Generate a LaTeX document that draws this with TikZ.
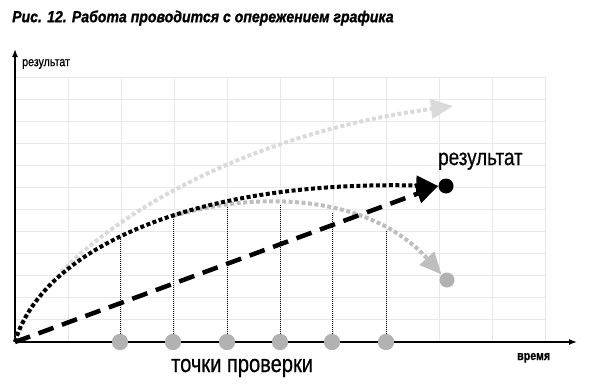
\documentclass[tikz,border=0pt]{standalone}
\usepackage{fontspec}
\setmainfont{Liberation Sans}
\newfontfamily\narrowfont[FakeStretch=0.82,FakeBold=0.6]{Liberation Sans}
\newfontfamily\titlefont[FakeStretch=0.88,FakeBold=1.2]{Liberation Sans}
\usetikzlibrary{arrows.meta}
\definecolor{gridgray}{HTML}{E8E8E8}
\definecolor{lightdots}{HTML}{DADADA}
\definecolor{middots}{HTML}{BEBEBE}
\definecolor{pointgray}{HTML}{B2B2B2}

\begin{document}
\begin{tikzpicture}[x=1pt,y=-1pt]
    \tikzstyle{grid line}=[draw=gridgray, line width=0.9pt]
    \tikzstyle{axis}=[-{Latex[length=8pt,width=6pt]}, line width=1.4pt]
    \tikzstyle{check point}=[circle, fill=pointgray, minimum size=16pt, inner sep=0pt]
    \tikzstyle{end point}=[circle, minimum size=15pt, inner sep=0pt]
    \tikzstyle{big tip}=[-{Triangle[length=22pt,width=19pt]}]
    \tikzstyle{plan line}=[big tip, line width=4.5pt, dash pattern=on 16pt off 9pt]
    \tikzstyle{dot line}=[big tip, line width=4pt, dash pattern=on 4pt off 2.5pt]
    \tikzstyle{drop line}=[line width=0.8pt, dash pattern=on 1pt off 1pt]
    \useasboundingbox (0,0) rectangle (612,388);
    % Draw the grid
    \foreach \i in {1,...,10}
        \draw[grid line] (15+53*\i,77) -- (15+53*\i,342);
    \foreach \j in {0,...,11}
        \draw[grid line] (15,77+22.08*\j) -- (545,77+22.08*\j);
    % Draw the axes
    \coordinate (O) at (15,342);
    \coordinate (Ytop) at (15,49);
    \coordinate (Xend) at (577,342);
    \draw[axis] (O) -- (Ytop);
    \draw[axis] (O) -- (Xend);
    % Draw the check points and drop lines
    \foreach \n / \x / \y in {1/120/237, 2/173/216, 3/227/205, 4/280/205, 5/332/213, 6/386/231} {
        \coordinate (C-\n) at (\x,\y);
        \node[check point] (P-\n) at (\x,342) {};
        \draw[drop line] (P-\n) -- (C-\n);
    }
    \foreach \n in {1,...,6}
        \node[check point] at (P-\n) {};
    % Draw the end points
    \node[end point, fill=black] (res) at (446,186) {};
    \node[end point, fill=pointgray] (low) at (447,280) {};
    \coordinate (high) at (453,106);
    % Draw the curves
    \draw[dot line, draw=lightdots] (O) .. controls (40,260) and (200,140) .. (high);
    \draw[dot line, draw=middots] (C-2) .. controls (260,190) and (370,195) .. (low.north west);
    \draw[dot line] (O) .. controls (40,255) and (180,180) .. (res.west);
    \draw[plan line] (O) -- (res.west);
    % Draw the labels
    \node[anchor=west, inner sep=0pt] (title) at (12,18)
        {\titlefont\fontsize{16}{19}\selectfont\bfseries\itshape Рис. 12. Работа проводится с опережением графика};
    \node[anchor=west, inner sep=0pt] (ylabel) at (22,64)
        {\narrowfont\fontsize{13}{15}\selectfont результат};
    \node[anchor=base west, inner sep=0pt] (reslabel) at (438,165)
        {\narrowfont\fontsize{23}{27}\selectfont результат};
    \node[anchor=base west, inner sep=0pt] (xlabel) at (517,360)
        {\narrowfont\fontsize{13}{15}\selectfont\bfseries время};
    \node[anchor=base west, inner sep=0pt] (checklabel) at (171,372)
        {\narrowfont\fontsize{24.5}{28}\selectfont точки проверки};
\end{tikzpicture}
\end{document}
